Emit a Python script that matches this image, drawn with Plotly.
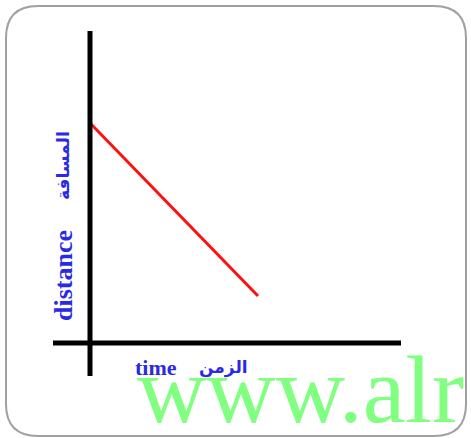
import plotly.graph_objects as go

# data (time, distance) for the red line
time = [0, 10]
distance = [13.1, 2.8]

W, H = 471, 438
PX = 16.8          # pixels per unit
X0, Y0 = 90, 343   # pixel position of origin

def px_to_x(p):
    return (p - X0) / PX

def py_to_y(p):
    return (Y0 - p) / PX

fig = go.Figure()
fig.add_trace(go.Scatter(x=time, y=distance, mode="lines",
                         line=dict(color="#ff1010", width=3), hoverinfo="skip"))

shapes = []
# rounded border in paper coords
r = 32
L, T, R, B = 6, 6, 466, 436
def p(x, y):
    return f"{x / W:.5f},{1 - y / H:.5f}"
path = (f"M {p(L + r, T)} L {p(R - r, T)} Q {p(R, T)} {p(R, T + r)} "
        f"L {p(R, B - r)} Q {p(R, B)} {p(R - r, B)} L {p(L + r, B)} "
        f"Q {p(L, B)} {p(L, B - r)} L {p(L, T + r)} Q {p(L, T)} {p(L + r, T)} Z")
shapes.append(dict(type="path", xref="paper", yref="paper", path=path,
                   line=dict(color="#a0a0a0", width=2), layer="below"))
# axes
shapes.append(dict(type="line", xref="x", yref="y",
                   x0=0, x1=0, y0=py_to_y(376), y1=py_to_y(31),
                   line=dict(color="black", width=5)))
shapes.append(dict(type="line", xref="x", yref="y",
                   x0=px_to_x(53), x1=px_to_x(401), y0=0, y1=0,
                   line=dict(color="black", width=5)))

blue = "#2a2ae6"
ann = [
    dict(x=135 / W, y=1 - 445 / H, text="www.alr", xanchor="left", yanchor="bottom",
         font=dict(family="Liberation Serif", size=96, color="#80ff80")),
    dict(x=63 / W, y=1 - 276 / H, text="<b>distance</b>", textangle=-90,
         font=dict(family="Liberation Serif", size=26, color=blue)),
    dict(x=63 / W, y=1 - 166 / H, text="<b>المسافة</b>", textangle=-90,
         font=dict(family="DejaVu Sans", size=17, color=blue)),
    dict(x=156 / W, y=1 - 367 / H, text="<b>time</b>",
         font=dict(family="Liberation Serif", size=22, color=blue)),
    dict(x=223 / W, y=1 - 367 / H, text="<b>الزمن</b>",
         font=dict(family="DejaVu Sans", size=17, color=blue)),
]
for a in ann:
    a.update(xref="paper", yref="paper", showarrow=False)
    a.setdefault("xanchor", "center")
    a.setdefault("yanchor", "middle")

fig.update_layout(
    width=W, height=H, autosize=False,
    margin=dict(l=0, r=0, t=0, b=0),
    paper_bgcolor="white", plot_bgcolor="white",
    showlegend=False,
    xaxis=dict(range=[px_to_x(0), px_to_x(W)], visible=False, fixedrange=True),
    yaxis=dict(range=[py_to_y(H), py_to_y(0)], visible=False, fixedrange=True),
    shapes=shapes, annotations=ann,
)
fig.write_html("out.html", config={"displayModeBar": False},
               post_script="document.body.style.margin='0';document.body.style.overflow='hidden';")
